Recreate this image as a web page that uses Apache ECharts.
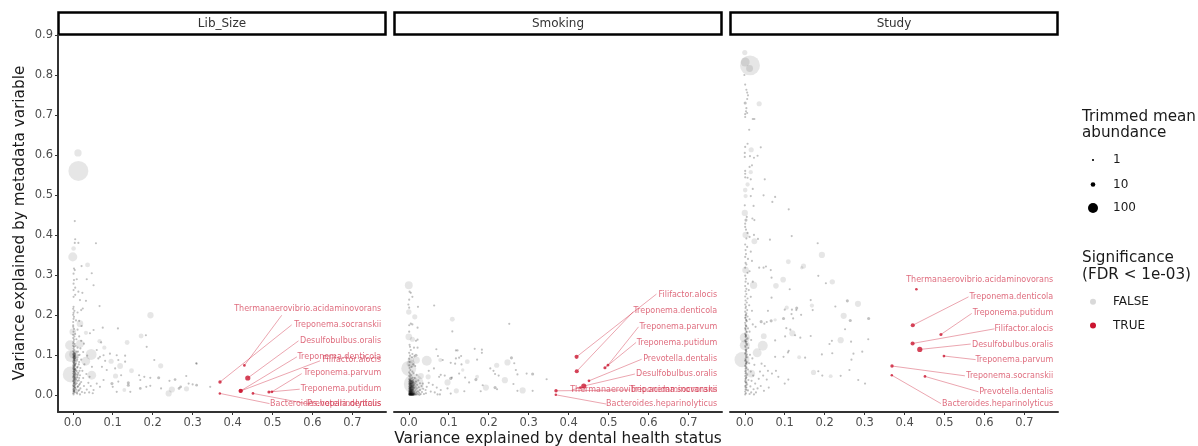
<!DOCTYPE html>
<html><head><meta charset="utf-8">
<style>html,body{margin:0;padding:0;background:#fff}#c{width:1198px;height:446px}</style>
<script src="https://cdn.jsdelivr.net/npm/echarts@6/dist/echarts.min.js"></script>
</head><body><div id="c"></div>
<script>
const panelNames = ['Lib_Size','Smoking','Study'];
const xTicks = [0,0.1,0.2,0.3,0.4,0.5,0.6,0.7];
const yTicks = [0,0.1,0.2,0.3,0.4,0.5,0.6,0.7,0.8,0.9];
const sizeBreaks = [1,10,100];

// Non-significant taxa: [x, y, abundance] (abundance 1 when omitted)
const libSizeOther = [
[.014,.56,800],[.013,.605,40],[.005,.4345],[.006,.389],[.014,.38],[.005,.38],[.058,.379],[.002,.366,10],[0,.345,75],[.037,.325,12],[.022,.322],[.003,.316],[.005,.312],[.002,.303],[.0475,.304],[.01,.289],[.003,.287],[.035,.289],[.002,.278],[.052,.274],[.006,.268],[.002,.262],[.024,.255],[.014,.258],[.006,.25],[.002,.245],[.033,.235],[.018,.237],[.067,.222],[.002,.22],[.001,.215],[.004,.21],[.002,.205],[.021,.212],[.012,.206],[.025,.216],[.001,.2],[.003,.195],[.002,.19],[.008,.186],[.001,.182],[.018,.178,30],[.016,.185],[.022,.172],[.001,.174],[.1945,.199,25],[.075,.168],[.113,.166],[.033,.155,8],[.043,.154],[0,.1575,30],[.006,.152],[.171,.147,12],[.183,.149],[.067,.134,8],[.071,.131],[.136,.131,12],[.185,.12],[.079,.118,8],[.018,.128,50],[-.0067,.124,100],[.046,.101,130],[.002,.101,70],[-.005,.097,170],[.0325,.084,70],[.096,.084,14],[.1185,.072,20],[.147,.06,12],[.22,.0725,14],[.309,.079],[.204,.087],[-.005,.051,410],[.0475,.049,70],[.107,.047,14],[.139,.03,3],[.129,.012,6],[.24,.0035,24],[.248,.0133,24],[.2846,.015,14],[.215,.0425,3],[.242,.035],[.256,.038,2],[.284,.047],
[.052,.162],[.06,.112],[.068,.095],[.077,.099],[.064,.091],[.073,.07],[.081,.085],[.085,.062],[.077,.037],[.068,.02],[.052,.012],[.06,.028],[.093,.103],[.11,.099],[.131,.098],[.114,.087],[.131,.083],[.106,.066],[.121,.049],[.098,.028,3],[.1,.02],[.114,.033],[.139,.024,3],[.11,.0075],[.144,.0075],[.166,.049],[.169,.037],[.179,.045],[.194,.0425],[.169,.016,2],[.184,.02],[.194,.0225],[.221,.016],[.27,.02,2],[.266,.016,2],[.29,.028],[.3,.026],[.31,.024,2],[.344,.02],[.31,.078],
[.001,.17],[.003,.165],[.012,.163],[.002,.158],[.001,.15],[.004,.146],[.016,.146],[.001,.142],[.003,.138],[.009,.139],[.021,.135],[.002,.133],[.001,.129],[.005,.127],[.028,.128],[.001,.123],[.003,.12],[.007,.122],[.012,.118],[.019,.116],[.002,.115],[.004,.112],[.001,.109],[.009,.108],[.003,.106],[.026,.107],[.006,.103],[.001,.102],[.014,.099],[.002,.098],[.004,.096],[.036,.098],[.001,.094],[.007,.092],[.003,.09],[.011,.089],[.021,.088],[.002,.087],[.005,.085],[.001,.083],[.016,.082],[.003,.08],[.008,.079],[.002,.077],[.006,.075],[.029,.076],[.001,.073],[.004,.071],[.012,.07],[.002,.068],[.019,.067],[.001,.065],[.006,.063],[.003,.062],[.009,.06],[.024,.06],[.002,.058],[.004,.056],[.014,.055],[.001,.053],[.007,.051],[.034,.052],[.003,.05],[.018,.049],[.002,.047],[.005,.045],[.011,.044],[.001,.043],[.026,.042],[.004,.04],[.008,.039],[.002,.037],[.015,.036],[.006,.034],[.001,.033],[.021,.032],[.003,.03],[.01,.029],[.039,.03],[.002,.027],[.007,.026],[.016,.025],[.001,.023],[.004,.022],[.028,.022],[.012,.02],[.002,.018],[.006,.017],[.019,.016],[.001,.014],[.009,.013],[.035,.013],[.003,.011],[.014,.01],[.002,.008],[.023,.007],[.005,.006],[.001,.004],[.041,.006],[.03,.005],[.011,.003],[.002,.001],[.018,.001],[.05,.004],[.045,.022],[.042,.045],[.048,.07],
[.003,.104],[.005,.101],[.002,.1],[.004,.098],[.006,.097],[.003,.095],[.005,.093],[.002,.092],[.004,.09],[.006,.088],[.003,.086],[.005,.083],[.002,.081],[.004,.078],[.006,.076],[.003,.074],[.005,.072],[.002,.07],[.004,.067],[.006,.065],[.003,.064],[.005,.061],[.002,.059],[.004,.057],[.006,.054],[.003,.052],[.005,.049],[.002,.046],[.004,.044],[.006,.042],[.003,.04],[.005,.037],[.002,.035],[.004,.032],[.006,.03],[.003,.028],[.005,.025],[.002,.022],[.004,.02],[.006,.018],[.003,.015],[.005,.012],[.002,.01],[.004,.008],[.013,.108],[.017,.1],[.012,.094],[.01,.085],[.015,.076],[.011,.068],[.017,.06],[.012,.05],[.016,.042],[.011,.035],[.018,.028],[.013,.021],[.016,.012],[.01,.006]
];
const smokingOther = [
[0,.274,50],[.002,.258],[.005,.255],[.009,.245],[.001,.238],[-.001,.226],[.001,.218],[.023,.22],[.0635,.2235],[0,.207,16],[.015,.195,14],[.109,.189,12],[.005,.178],[.001,.174],[.009,.176],[.001,.158],[.022,.168],[.109,.1585],[.2515,.1776],[0,.145,30],[.009,.139,14],[.018,.135],[.022,.138],[.003,.12],[.013,.118],[.022,.118],[.069,.114],[.118,.111],[.122,.111],[.165,.115],[.183,.113],[.183,.105],[.073,.097],[.018,.099,3],[.005,.088,25],[.019,.0867,34],[.045,.085,100],[.079,.087,8],[.085,.087],[.131,.097],[.118,.091],[.126,.093],[.1465,.083,12],[.116,.078],[.105,.08],[.132,.076],[.171,.088],[.257,.0925,3],[.247,.081,24],[.264,.079],[.22,.074,14],[.204,.066],[.212,.06],[.216,.052],[.225,.048],[.268,.062],[.295,.053],[.31,.052,3],[.272,.051],[0,.066,340],[.005,.078,60],[.03,.047,24],[.0485,.045,14],[.135,.062,4],[.126,.053],[.08,.05],[.063,.066],[.076,.045],[.09,.048],[.105,.041,3],[.108,.043],[.097,.031,24],[.171,.045,6],[.168,.038,3],[.141,.043],[.151,.031],[.185,.024],[.193,.018,24],[.216,.018,3],[.221,.014],[.2405,.0367,24],[.262,.027],[.285,.011,24],[.272,.01],[.31,.01],[.119,.01,14],[.097,.016],[.105,.003],[.139,.009],[.18,.009],[.072,.001],[.078,.001],[.345,.039],[.05,.03],[.06,.025],[.07,.018],[.08,.012],[.055,.008],[.065,.006],[.045,.02],[.042,.012],[.035,.028],[.05,.06],
[.0125,.027,800],[.012,.034,60],[.002,.125],[.005,.112],[.001,.105],[.009,.102],[.014,.096],[.003,.098],[.001,.09],[.008,.094],[.002,.082],[.011,.076],[.001,.074],[.007,.07],[.002,.067],[.016,.072],[.004,.062],[.009,.058],[.001,.056],[.012,.054],[.003,.052],[.006,.049],[.02,.05],[.001,.047],[.004,.045],[.009,.043],[.015,.042],[.002,.041],[.006,.04],[.001,.038],[.003,.037],[.011,.037],[.024,.036],[.008,.035],[.002,.034],[.005,.033],[.018,.033],[.001,.032],[.012,.031],[.003,.03],[.007,.029],[.028,.029],[.002,.028],[.015,.028],[.005,.027],[.001,.026],[.01,.026],[.021,.025],[.003,.024],[.006,.023],[.013,.023],[.002,.022],[.032,.022],[.008,.021],[.017,.021],[.001,.02],[.004,.019],[.011,.019],[.025,.019],[.006,.018],[.002,.017],[.015,.017],[.009,.016],[.003,.016],[.02,.016],[.001,.015],[.005,.014],[.012,.014],[.036,.015],[.007,.013],[.002,.012],[.017,.012],[.028,.012],[.004,.011],[.01,.011],[.001,.01],[.006,.01],[.014,.009],[.023,.009],[.003,.008],[.008,.008],[.001,.007],[.019,.007],[.005,.007],[.011,.006],[.033,.007],[.002,.006],[.007,.005],[.015,.005],[.004,.005],[.026,.005],[.001,.004],[.01,.004],[.006,.003],[.02,.003],[.003,.003],[.013,.003],[.001,.002],[.008,.002],[.017,.002],[.004,.002],[.03,.002],[.002,.001],[.006,.001],[.011,.001],[.015,.001],[.023,.001],[.001,.001],[.004,0],[.008,0],[.013,0],[.018,0],[.027,0],[.038,.002],[.043,.004],[.002,0],[.006,0],[.01,0],
[.003,.036],[.005,.035],[.007,.034],[.009,.033],[.011,.032],[.004,.031],[.006,.03],[.008,.03],[.01,.029],[.002,.028],[.004,.027],[.006,.026],[.008,.025],[.012,.025],[.003,.024],[.005,.023],[.007,.022],[.009,.022],[.011,.021],[.003,.02],[.005,.02],[.007,.019],[.009,.018],[.013,.018],[.003,.017],[.005,.016],[.007,.016],[.011,.015],[.003,.014],[.005,.013],[.008,.013],[.01,.012],[.003,.011],[.006,.011],[.008,.01],[.012,.009],[.003,.009],[.005,.008],[.007,.008],[.009,.007],[.003,.006],[.006,.006],[.008,.005],[.012,.005],[.003,.004],[.005,.004],[.007,.003],[.009,.003],[.011,.002],[.003,.002],[.005,.002],[.007,.001],[.009,.001],[.013,.001],[.003,.001],[.005,0],[.007,0],[.009,0],[.011,0],[.003,0]
];
const studyOther = [
[.013,.824,800],[.001,.8325,75],[.012,.816,34],[0,.856,14],[-.001,.8],[.001,.776],[.004,.763],[.006,.756],[.008,.749],[.006,.74],[.001,.73,3],[.036,.728,14],[.004,.717],[.003,.709],[.006,.705],[.001,.702],[.001,.695],[.02,.69],[.024,.69],[.011,.663],[.007,.628],[.001,.62],[.016,.613,14],[.04,.619],[0,.605],[0,.595],[.013,.597],[.023,.593],[.032,.598],[.018,.574],[.012,.57],[.015,.557,8],[.001,.56],[.001,.553],[.001,.544],[.007,.543],[.015,.539],[.05,.539],[.007,.526,8],[.02,.515],[.001,.512,10],[.002,.497,8],[.015,.497],[.047,.499],[.076,.495],[.069,.4825],[.022,.4725],[.11,.464],[0,.474],[0,.455,25],[.005,.445],[.003,.437,3],[.019,.441],[.024,.437],[.001,.428],
[.193,.35,25],[.1825,.379],[.1175,.397],[.063,.388],[.109,.333,12],[.147,.322,14],[.1425,.318,4],[.053,.321],[.047,.318],[.036,.318],[.065,.312],[.096,.288,18],[.078,.2725,18],[.022,.274,40],[.02,.283],[.219,.2825,16],[.203,.279],[.184,.2975],[.1125,.264],[.067,.293],[.067,.243],[.2567,.235,3],[.2833,.2275,24],[.165,.237],[.168,.2233,8],[.2267,.2208],[.17,.212],[.2475,.1975,24],[.264,.186,3],[.31,.191,3],[.105,.218,8],[.1,.213],[.13,.217,3],[.129,.212],[.118,.213],[.117,.202],[.141,.2],[.097,.191,3],[.121,.191],[.058,.21],[.076,.1875,4],[.066,.185,3],[.055,.182],[.041,.183,3],[.049,.178],[.119,.154,24],[.104,.1667],[.114,.163],[.101,.146],[.126,.149],[.139,.143],[.165,.147],[.251,.164],[.0475,.1467,20],[.045,.1225,100],[.031,.105,73],[.076,.136],[.24,.1367,24],[.218,.135],[.212,.127],[.266,.133],[.309,.139],[.136,.094,6],[.11,.11],[.108,.106],[.097,.095],[.076,.095],[.151,.093],[.193,.101],[.219,.104],[.272,.103],[.294,.108],[.267,.088],
[.172,.056,14],[.184,.059],[.194,.048],[.215,.0467,6],[.24,.0475],[.262,.062],[.284,.037],[.301,.028],[.109,.038],[.1,.028],[.084,.045],[.078,.06],[.068,.053],[.058,.06],[.05,.072],[.042,.078],
[-.007,.088,340],[0,.124,100],[0,.143,100],[.016,.053,50],[.002,.312,30],[.002,.4,25],[.024,.384,20],[.001,.42],[.003,.413],[.007,.405],[.004,.391],[.012,.395],[.023,.4],[.033,.39],[.001,.376],[.006,.37],[.002,.362],[.015,.358],[.003,.352],[.001,.345],[.008,.34],[.002,.33],[.018,.335],[.004,.326],[.001,.318],[.007,.305],[.012,.309],[.001,.298],[.003,.29],[.002,.283],[.008,.278],[.001,.272],[.004,.265],[.002,.259],[.01,.262],[.004,.252],[.001,.246],[.007,.241],[.015,.245],[.002,.236],[.005,.231],[.001,.226],[.003,.221],[.011,.224],[.002,.217],[.006,.212],[.001,.208],[.004,.204],[.018,.21],[.002,.199],[.007,.196],[.001,.192],[.003,.188],[.012,.189],[.005,.184],[.001,.18],[.002,.175],[.02,.176],[.004,.171],[.001,.167],[.008,.166],[.002,.162],[.027,.17],[.005,.157],[.001,.153],[.012,.158],[.003,.149],[.002,.145],[.007,.141],[.001,.136],[.016,.137],[.003,.132],[.006,.127],[.001,.122],[.009,.117],[.002,.112],[.004,.108],[.001,.103],[.013,.1],[.003,.098],[.006,.094],[.002,.09],[.019,.091],[.001,.085],[.005,.081],[.003,.077],[.011,.079],[.001,.073],[.024,.075],[.004,.069],[.002,.065],[.008,.063],[.001,.059],[.015,.058],[.003,.055],[.006,.051],[.001,.047],[.021,.048],[.004,.044],[.002,.04],[.009,.037],[.001,.033],[.017,.035],[.003,.03],[.026,.028],[.006,.026],[.001,.022],[.014,.021],[.004,.018],[.002,.014],[.022,.014],[.008,.011],[.001,.008],[.016,.006],[.003,.004],[.028,.006],[.001,.001],[.012,.002],[.023,.001],[.032,.016],[.04,.022],[.035,.04],[.046,.048],[.038,.058],[.055,.038],[.06,.018],[.048,.01],
[.003,.2],[.002,.194],[.004,.186],[.003,.172],[.002,.165],[.004,.158],[.002,.15],[.003,.146],[.004,.139],[.002,.134],[.003,.128],[.005,.124],[.002,.119],[.004,.114],[.003,.11],[.002,.105],[.005,.101],[.003,.094],[.002,.087],[.004,.083],[.003,.079],[.002,.071],[.004,.066],[.003,.06],[.002,.053],[.004,.048],[.003,.042],[.002,.036],[.004,.031],[.003,.024],[.002,.019],[.004,.012]
];

// Significant taxa, same order in all the arrays below
const sigNames = ['Thermanaerovibrio.acidaminovorans','Treponema.socranskii','Desulfobulbus.oralis','Treponema.denticola','Filifactor.alocis','Treponema.parvum','Treponema.putidum','Prevotella.dentalis','Bacteroides.heparinolyticus'];
const sigX = [.4295,.3685,.438,.4205,.42,.4985,.491,.451,.368];
const sigAbund = [2,4,14,7,7,2,3,2,1.5];
const sigY = [
  [.0735,.032,.042,.01,.0095,.0075,.007,.0035,.0035],
  [.018,.01,.022,.059,.095,.074,.0675,.035,0],
  [.264,.072,.1135,.174,.1285,.097,.151,.046,.049]
];
const labelY = [
  [.214,.175,.134,.094,.087,.054,.015,-.024,-.024],
  [.013,.012,.051,.21,.249,.17,.131,.091,-.024],
  [.288,.0475,.125,.245,.165,.087,.205,.0075,-.024]
];
const labelEdgeX = [
  [.523,.548,.565,.561,.619,.573,.568,.59,.4925],
  [.408,.554,.566,.562,.62,.575,.569,.583,.494],
  [.4295,.551,.5655,.56,.625,.578,.568,.585,.491]
];
const labelEdgeY = [
  [.199,.175,.135,.095,.085,.053,.014,-.023,-.022],
  [.012,.012,.052,.208,.252,.17,.131,.089,-.023],
  [.264,.0475,.127,.245,.165,.088,.2035,.0075,-.022]
];
const otherData = [libSizeOther, smokingOther, studyOther];

const FONT = 'DejaVu Sans';
const RED = '#CB1530';
const diam = a => 2.15*Math.cbrt(a);
const lefts = [58,394,730], W = 328, TOP = 35, H = 377;
const grid=[],xAxis=[],yAxis=[],series=[],graphic=[];
panelNames.forEach((name,i)=>{
  grid.push({left:lefts[i],top:TOP,width:W,height:H});
  xAxis.push({type:'value',gridIndex:i,min:-0.037,max:0.784,splitLine:{show:false},
    axisLine:{onZero:false,lineStyle:{color:'#333',width:2}},
    axisTick:{length:3,customValues:xTicks,lineStyle:{color:'#333',width:1}},
    axisLabel:{customValues:xTicks,formatter:v=>v.toFixed(1),color:'#4D4D4D',fontFamily:FONT,fontSize:11.5,margin:5}});
  yAxis.push({type:'value',gridIndex:i,min:-0.043,max:0.9,show:i===0,splitLine:{show:false},
    axisLine:{onZero:false,lineStyle:{color:'#333',width:2}},
    axisTick:{length:3,customValues:yTicks,lineStyle:{color:'#333',width:1}},
    axisLabel:{customValues:yTicks,formatter:v=>v.toFixed(1),color:'#4D4D4D',fontFamily:FONT,fontSize:11.5,margin:5}});
  series.push({type:'scatter',xAxisIndex:i,yAxisIndex:i,silent:true,data:otherData[i].map(d=>[d[0],d[1],d[2]||1]),
    symbolSize:v=>diam(v[2]),itemStyle:{color:p=>p.value[2]<=3?'rgba(0,0,0,0.3)':'rgba(0,0,0,0.12)'}});
  sigNames.forEach((n,k)=>{
    series.push({type:'line',xAxisIndex:i,yAxisIndex:i,silent:true,showSymbol:false,symbol:'none',
      data:[[sigX[k],sigY[i][k]],[labelEdgeX[i][k],labelEdgeY[i][k]]],
      lineStyle:{color:RED,opacity:0.38,width:1}});
  });
  series.push({type:'scatter',xAxisIndex:i,yAxisIndex:i,silent:true,z:4,
    data:sigNames.map((n,k)=>[sigX[k],sigY[i][k],sigAbund[k]]),symbolSize:v=>diam(v[2]),itemStyle:{color:RED}});
  series.push({type:'scatter',xAxisIndex:i,yAxisIndex:i,silent:true,z:5,symbolSize:0,
    data:sigNames.map((n,k)=>({name:n,value:[0.772,labelY[i][k]]})),
    label:{show:true,position:'left',distance:0,formatter:p=>p.name,color:'rgba(203,21,48,0.8)',fontFamily:FONT,fontSize:8}});
  graphic.push({type:'rect',shape:{x:lefts[i]+.5,y:12.5,width:W-1,height:22},style:{fill:'#fff',stroke:'#000',lineWidth:2.5}});
  graphic.push({type:'text',x:lefts[i]+W/2,y:24,style:{text:name,fill:'#333',font:'12px "DejaVu Sans"',textAlign:'center',textVerticalAlign:'middle'}});
});
const T=(x,y,text,size,fill)=>({type:'text',x,y,style:{text,fill:fill||'#1a1a1a',font:size+'px "DejaVu Sans"',textVerticalAlign:'middle'}});
graphic.push({type:'text',x:558,y:439,style:{text:'Variance explained by dental health status',fill:'#1a1a1a',font:'15.3px "DejaVu Sans"',textAlign:'center',textVerticalAlign:'middle'}});
graphic.push({type:'text',x:20,y:223,rotation:Math.PI/2,style:{text:'Variance explained by metadata variable',fill:'#1a1a1a',font:'15.3px "DejaVu Sans"',textAlign:'center',textVerticalAlign:'middle'}});
graphic.push(T(1082,117,'Trimmed mean',15.2),T(1082,133,'abundance',15.2));
[160,184.5,208].forEach((y,j)=>{
  graphic.push({type:'circle',shape:{cx:1093,cy:y,r:diam(sizeBreaks[j])/2},style:{fill:'#000'}});
  graphic.push(T(1113,y,String(sizeBreaks[j]),12));
});
graphic.push(T(1082,258,'Significance',15.2),T(1082,275,'(FDR < 1e-03)',15.2));
graphic.push({type:'circle',shape:{cx:1093,cy:301.7,r:3},style:{fill:'#D9D9D9'}},T(1113,301.7,'FALSE',12));
graphic.push({type:'circle',shape:{cx:1093,cy:325.5,r:3},style:{fill:RED}},T(1113,325.5,'TRUE',12));

const chart = echarts.init(document.getElementById('c'),null,{renderer:'canvas'});
chart.setOption({animation:false,backgroundColor:'#fff',grid,xAxis,yAxis,series,graphic});
</script></body></html>
